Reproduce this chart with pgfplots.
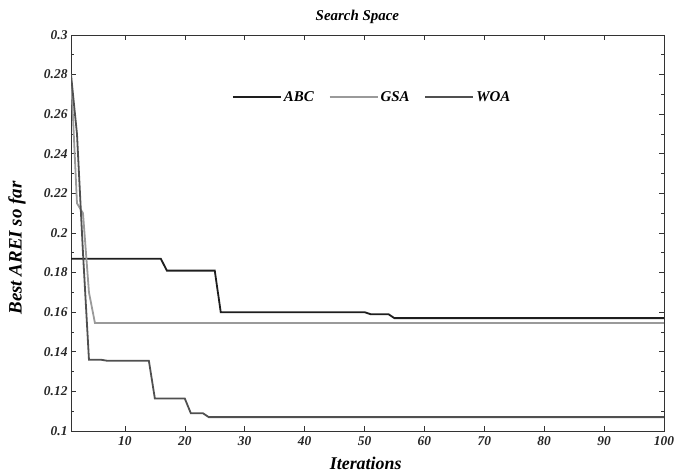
\documentclass[border=0pt]{standalone}
\usepackage{pgfplots}
\pgfplotsset{compat=1.18}
\usepackage{fontspec}
\setmainfont{Liberation Serif}
\definecolor{abc}{HTML}{1E1E1E}
\definecolor{gsa}{HTML}{9A9A9A}
\definecolor{woa}{HTML}{505050}
\begin{document}
\begin{tikzpicture}
\begin{axis}[
  scale only axis,
  width=593bp, height=396bp,
  xmin=1, xmax=100, ymin=0.1, ymax=0.3,
  xtick={10,20,...,100},
  ytick={0.1,0.12,...,0.301},
  minor y tick num=1,
  tick align=inside,
  major tick length=5bp, minor tick length=3bp,
  axis line style={line width=0.8bp, black!80},
  tick style={line width=0.6bp, black!80},
  /pgf/number format/assume math mode=true,
  /pgf/number format/fixed,
  /pgf/number format/precision=2,
  tick label style={font=\fontsize{13.5}{15}\selectfont\bfseries\itshape, text=black!85},
  xticklabel style={yshift=-2bp},
  title={Search Space},
  title style={font=\fontsize{15}{17}\selectfont\bfseries\itshape, at={(axis description cs:0.483,1)}, anchor=center, yshift=12bp},
  xlabel={Iterations},
  ylabel={Best AREI so far},
  xlabel style={font=\fontsize{18}{20}\selectfont\bfseries\itshape, at={(axis description cs:0.497,0)}, anchor=center, yshift=-32bp},
  ylabel style={font=\fontsize{19}{21}\selectfont\bfseries\itshape, at={(axis description cs:-0.091,0.462)}, anchor=center},
  legend columns=3,
  legend style={draw=none, fill=none, at={(0.508,0.843)}, anchor=center,
    font=\fontsize{15}{17}\selectfont\bfseries\itshape,
    /tikz/every even column/.append style={column sep=13bp}},
  legend image code/.code={\draw[#1] (0bp,0bp) -- (48bp,0bp);},
]
\addplot[abc, line width=1.8bp] coordinates {
 (1,0.187) (16,0.187) (17,0.181) (25,0.181) (26,0.160) (50,0.160) (51,0.159) (54,0.159) (55,0.157) (100,0.157)};
\addlegendentry{ABC}
\addplot[gsa, line width=1.8bp] coordinates {
 (1,0.28) (2,0.215) (3,0.21) (4,0.17) (5,0.1545) (100,0.1545)};
\addlegendentry{GSA}
\addplot[woa, line width=1.8bp] coordinates {
 (1,0.28) (2,0.25) (3,0.19) (4,0.136) (6,0.136) (7,0.1355) (14,0.1355) (15,0.1164) (20,0.1164) (21,0.109) (23,0.109) (24,0.107) (100,0.107)};
\addlegendentry{WOA}
\end{axis}
\pgfresetboundingbox
\path (current axis.south west) ++(-71bp,-43bp) rectangle ++(676bp,474bp);
\end{tikzpicture}
\end{document}
